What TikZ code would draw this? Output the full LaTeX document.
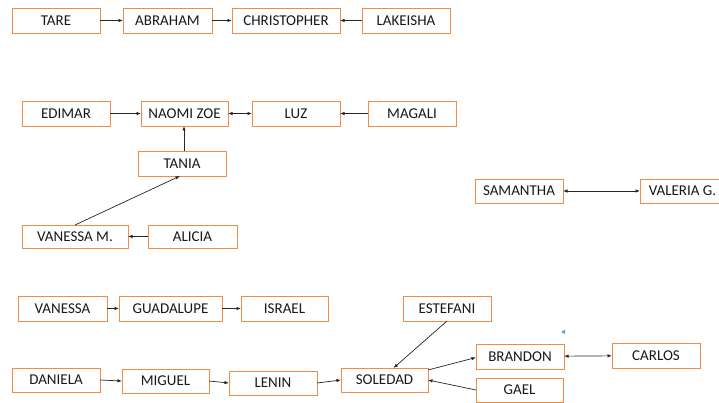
\documentclass[tikz,border=0pt]{standalone}
\usepackage{fontspec}
\setmainfont{Carlito}
\usetikzlibrary{arrows.meta}
\definecolor{boxor}{RGB}{240,140,70}
\tikzset{
  box/.style={draw=boxor, line width=0.9pt, fill=white, inner sep=0pt, outer sep=0pt,
    font=\fontsize{15}{17}\selectfont, text=black!90},
  arr/.style={-{Latex[length=4.5pt,width=3.5pt]}, line width=0.7pt, black!85},
  dbl/.style={{Latex[length=4.5pt,width=3.5pt]}-{Latex[length=4.5pt,width=3.5pt]}, line width=0.7pt, black!85}
}
\newcommand{\bx}[6]{\node[box, minimum width={#4pt-#2pt}, minimum height={#5pt-#3pt}] (#1) at ({(#2+#4)/2},{-(#3+#5)/2}) {#6};}
\begin{document}
\begin{tikzpicture}[x=1pt,y=1pt]
\useasboundingbox (0,0) rectangle (719,-403);
\clip (0,0) rectangle (719,-403);
% row 1
\bx{tare}{12}{8}{100}{33}{TARE}
\bx{abraham}{123}{8}{212}{33}{ABRAHAM}
\bx{christopher}{232}{8}{340}{33}{CHRISTOPHER}
\bx{lakeisha}{362}{8}{450}{33}{LAKEISHA}
\draw[arr] (tare) -- (abraham);
\draw[arr] (abraham) -- (christopher);
\draw[arr] (lakeisha) -- (christopher);
% group 2
\bx{edimar}{22}{101}{110}{126}{EDIMAR}
\bx{naomi}{141}{101}{228}{126}{NAOMI ZOE}
\bx{luz}{252}{101}{340}{126}{LUZ}
\bx{magali}{368}{101}{456}{126}{MAGALI}
\bx{tania}{138}{151}{226}{176}{TANIA}
\bx{vanessam}{22}{225}{128}{248}{VANESSA M.}
\bx{alicia}{148}{225}{237}{248}{ALICIA}
\draw[arr] (edimar) -- (naomi);
\draw[dbl] (naomi) -- (luz);
\draw[arr] (magali) -- (luz);
\draw[arr] ([xshift=2pt]tania.north) -- ([xshift=2pt]tania.north |- naomi.south);
\draw[arr] (vanessam.north) -- ([xshift=-2pt]tania.south);
\draw[arr] (alicia) -- (vanessam);
% samantha
\bx{samantha}{475}{179}{563}{203}{SAMANTHA}
\bx{valeria}{640}{179}{730}{203}{\hspace*{-5pt}VALERIA G.}
\draw[dbl] (samantha) -- (valeria);
% group 3
\bx{vanessa}{18}{296}{107}{321}{VANESSA}
\bx{guadalupe}{119}{296}{222}{321}{GUADALUPE}
\bx{israel}{241}{296}{328}{321}{ISRAEL}
\draw[arr] (vanessa) -- (guadalupe);
\draw[arr] (guadalupe) -- (israel);
% group 4
\bx{daniela}{12}{368}{100}{392}{DANIELA}
\bx{miguel}{122}{369}{209}{393}{MIGUEL}
\bx{lenin}{229}{371}{317}{395}{LENIN}
\bx{soledad}{341}{368}{428}{392}{SOLEDAD}
\bx{estefani}{403}{296}{491}{321}{ESTEFANI}
\bx{brandon}{476}{344}{564}{369}{BRANDON}
\bx{carlos}{612}{343}{700}{368}{CARLOS}
\bx{gael}{476}{378}{563}{402}{GAEL}
\draw[arr] (daniela.east) -- (miguel.west);
\draw[arr] (miguel.east) -- (lenin.west);
\draw[arr] (lenin.east) -- (soledad.west);
\draw[arr] (estefani.south) -- ([xshift=9pt]soledad.north);
\draw[arr] ([yshift=-2pt]soledad.north east) -- ([yshift=-1pt]brandon.west);
\draw[arr] (gael.west) -- (soledad.east);
\draw[dbl] (brandon) -- (carlos);
\fill[blue!50!cyan!70] (561,-332) -- (565,-329.5) -- (565,-334) -- cycle;
\end{tikzpicture}
\end{document}
